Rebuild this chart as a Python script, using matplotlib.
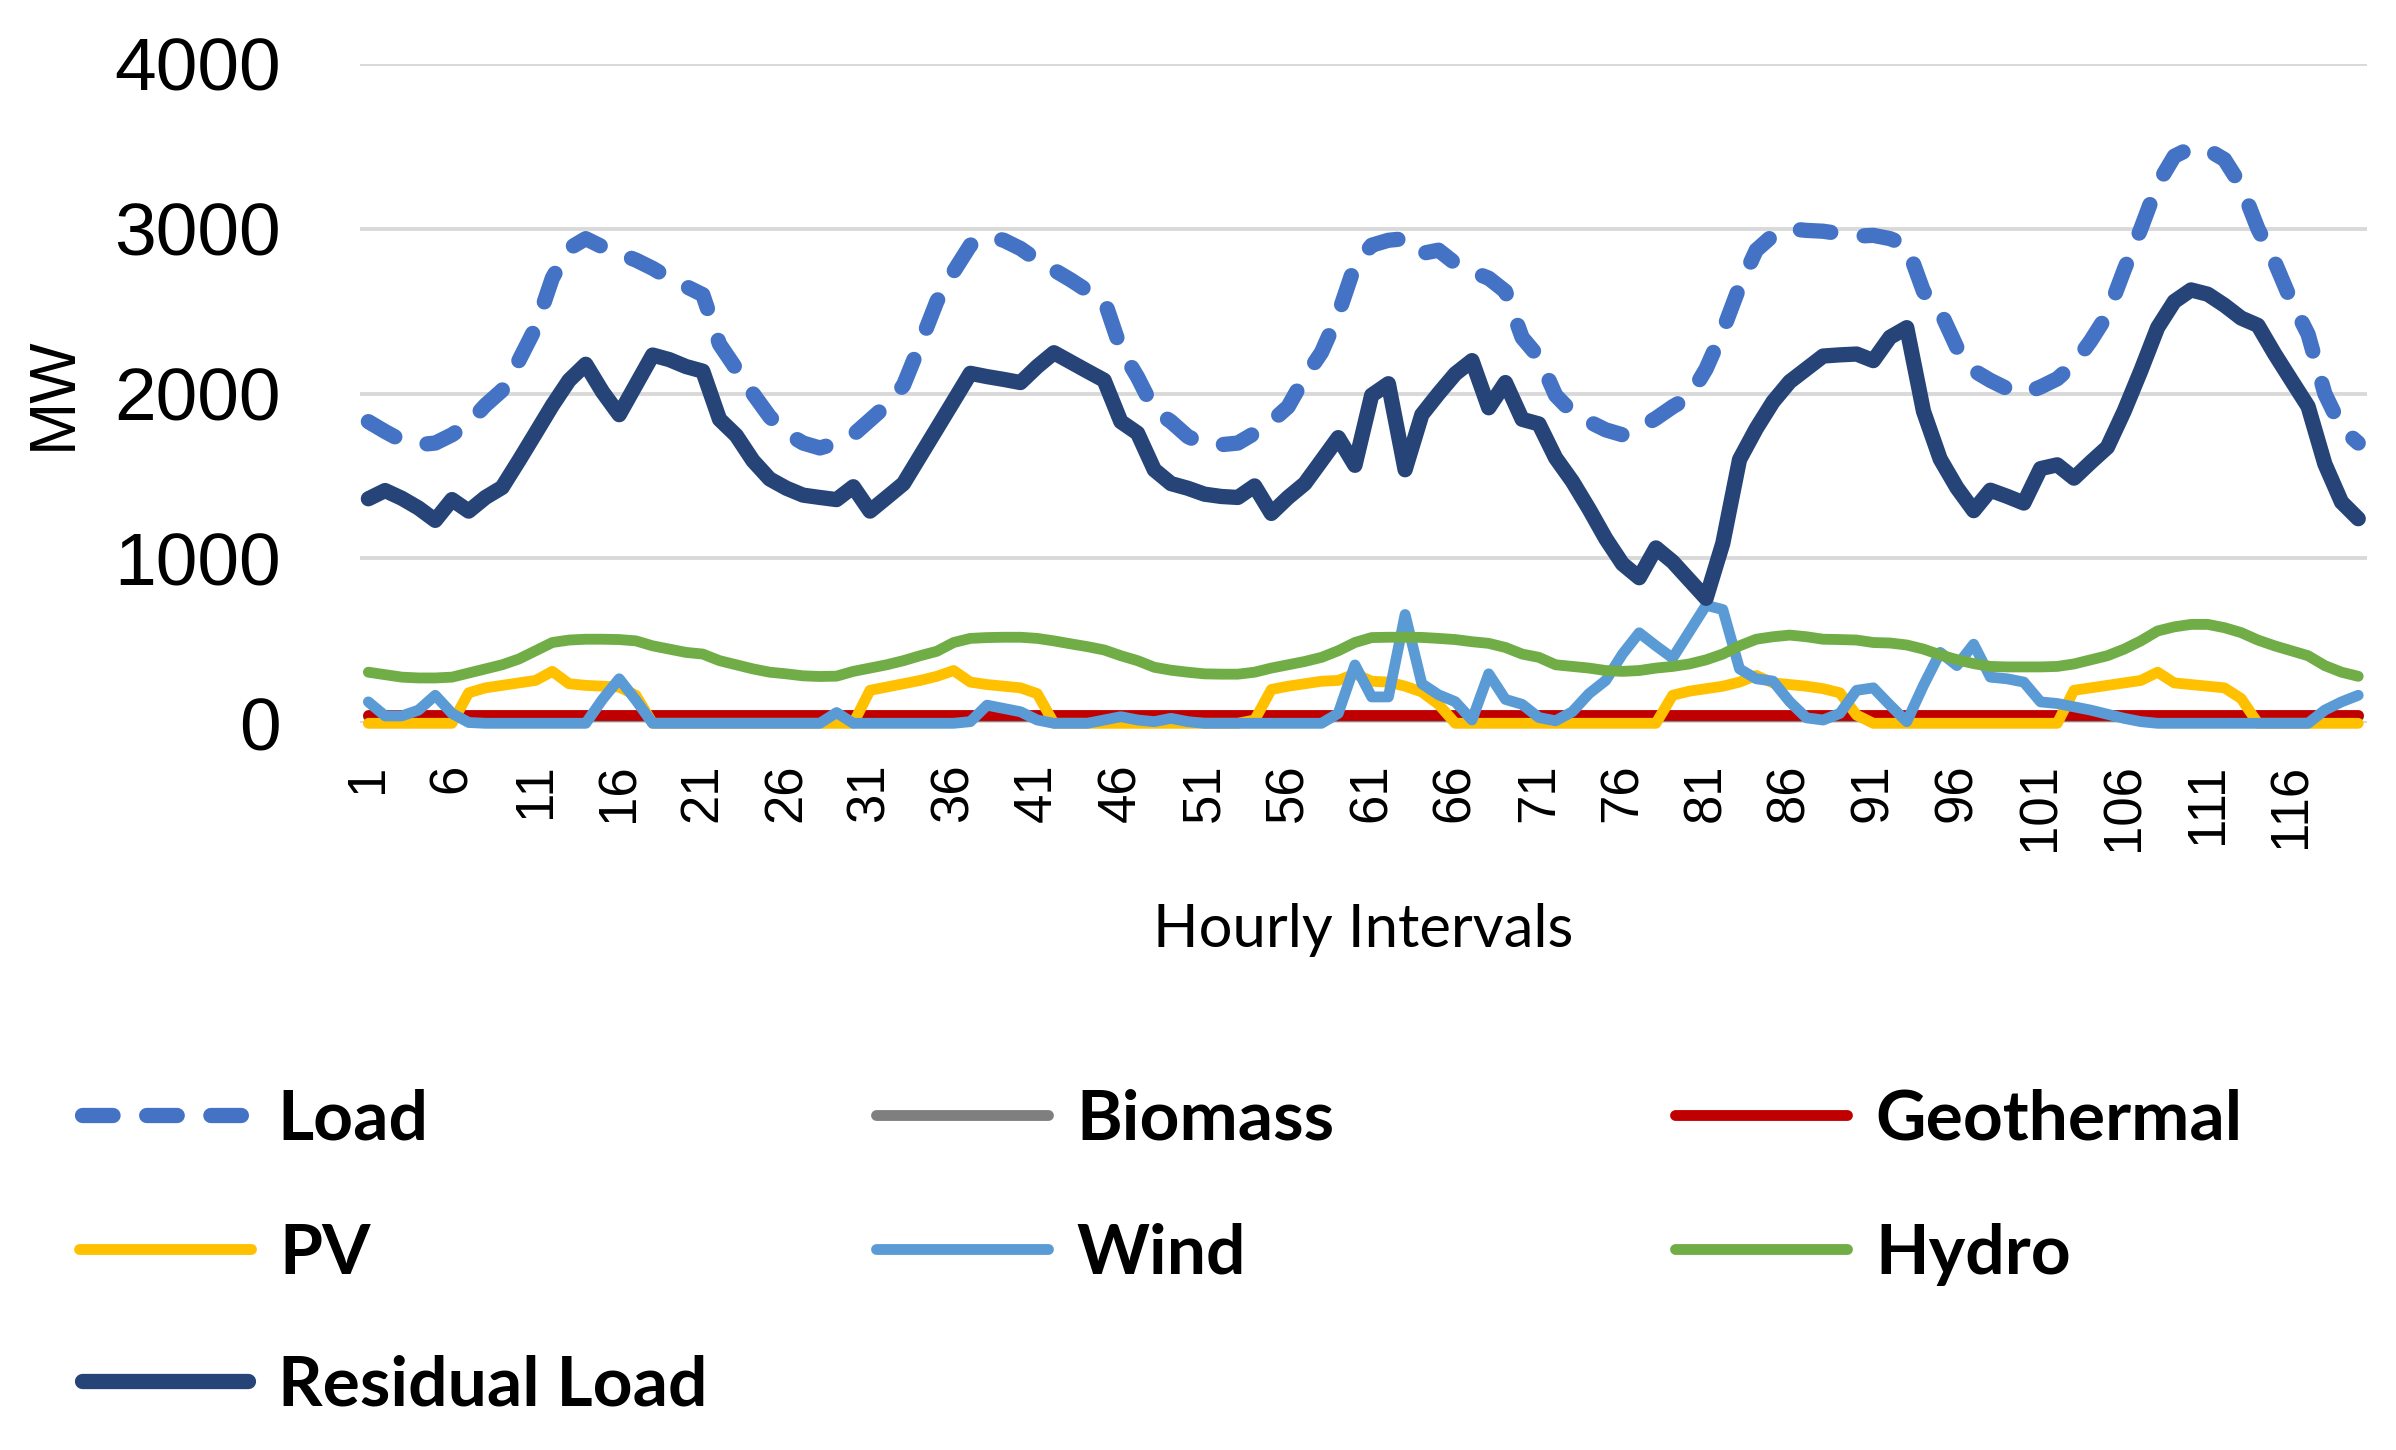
import matplotlib
matplotlib.use("Agg")
import matplotlib.pyplot as plt

plt.rcParams['font.family'] = ['Liberation Sans', 'DejaVu Sans']

hours = list(range(1, 121))

load = [1830, 1770, 1715, 1690, 1700, 1750, 1820, 1930, 2020, 2200,
        2400, 2700, 2880, 2940, 2890, 2850, 2810, 2760, 2700, 2650,
        2600, 2300, 2150, 2000, 1860, 1760, 1700, 1670, 1700, 1750,
        1840, 1930, 2050, 2300, 2560, 2740, 2900, 2955, 2930, 2880,
        2810, 2750, 2690, 2624, 2570, 2270, 2100, 1900, 1830, 1740,
        1690, 1690, 1700, 1760, 1830, 1920, 2100, 2250, 2480, 2780,
        2900, 2930, 2940, 2850, 2870, 2790, 2740, 2700, 2620, 2340,
        2220, 1990, 1886, 1830, 1780, 1750, 1790, 1850, 1920, 1980,
        2150, 2380, 2650, 2870, 2960, 3000, 2990, 2985, 2970, 2955,
        2960, 2940, 2900, 2620, 2500, 2280, 2140, 2080, 2030, 2000,
        2040, 2090, 2180, 2320, 2480, 2750, 3000, 3270, 3440, 3490,
        3480, 3420, 3260, 3000, 2800, 2560, 2360, 2000, 1790, 1700]

biomass = [45] * 120
geothermal = [50] * 120

pv = [0, 0, 0, 0, 0, 0, 185, 215, 230, 245,
      260, 315, 240, 230, 225, 220, 170, 0, 0, 0,
      0, 0, 0, 0, 0, 0, 0, 0, 0, 0,
      200, 220, 240, 260, 285, 320, 250, 235, 225, 215,
      180, 0, 0, 0, 0, 0, 0, 0, 0, 0,
      0, 0, 0, 20, 205, 225, 240, 255, 260, 300,
      255, 250, 225, 190, 115, 0, 0, 0, 0, 0,
      0, 0, 0, 0, 0, 0, 0, 0, 170, 195,
      210, 225, 250, 290, 245, 235, 225, 210, 185, 50,
      0, 0, 0, 0, 0, 0, 0, 0, 0, 0,
      0, 0, 200, 215, 230, 245, 260, 310, 245, 235,
      225, 215, 150, 0, 0, 0, 0, 0, 0, 0]

wind = [130, 45, 45, 80, 170, 60, 5, 0, 0, 0,
        0, 0, 0, 0, 145, 270, 140, 0, 0, 0,
        0, 0, 0, 0, 0, 0, 0, 0, 65, 0,
        0, 0, 0, 0, 0, 0, 10, 110, 90, 70,
        20, 0, 0, 0, 20, 40, 20, 10, 30, 10,
        0, 0, 0, 0, 0, 0, 0, 0, 60, 354,
        160, 160, 660, 240, 173, 131, 20, 300, 145, 115,
        35, 15, 70, 180, 260, 420, 549, 470, 396, 556,
        716, 690, 330, 270, 256, 131, 33, 20, 60, 200,
        215, 110, 10, 230, 430, 350, 480, 280, 270, 250,
        130, 120, 100, 80, 55, 30, 10, 0, 0, 0,
        0, 0, 0, 0, 0, 0, 0, 80, 130, 170]

hydro = [310, 295, 280, 275, 275, 280, 305, 330, 355, 390,
         440, 490, 505, 510, 510, 508, 500, 470, 450, 430,
         420, 380, 355, 330, 310, 300, 288, 284, 286, 315,
         335, 355, 380, 410, 437, 490, 515, 520, 522, 522,
         515, 500, 482, 465, 445, 410, 380, 340, 322, 310,
         300, 298, 298, 310, 335, 355, 375, 400, 440, 490,
         520, 522, 522, 521, 515, 508, 495, 485, 460, 420,
         400, 355, 345, 335, 320, 315, 320, 335, 345, 360,
         385, 420, 470, 510, 525, 535, 525, 510, 508, 505,
         490, 487, 475, 450, 415, 386, 362, 345, 342, 342,
         342, 345, 360, 385, 410, 450, 500, 560, 585, 600,
         600, 580, 550, 505, 470, 440, 410, 350, 310, 285]

residual = [1362, 1412, 1365, 1306, 1231, 1357, 1287, 1370, 1431, 1593,
            1760, 1928, 2080, 2178, 2011, 1872, 2053, 2234, 2206, 2164,
            2136, 1844, 1746, 1593, 1482, 1426, 1384, 1370, 1357, 1435,
            1287, 1370, 1454, 1621, 1788, 1955, 2123, 2103, 2086, 2067,
            2164, 2248, 2192, 2136, 2081, 1830, 1760, 1538, 1454, 1426,
            1390, 1376, 1370, 1440, 1273, 1370, 1454, 1593, 1733, 1565,
            1990, 2060, 1538, 1872, 2000, 2120, 2200, 1914, 2067, 1844,
            1816, 1610, 1468, 1300, 1120, 967, 883, 1064, 980, 869,
            758, 1092, 1600, 1788, 1950, 2072, 2150, 2228, 2235, 2240,
            2200, 2342, 2400, 1893, 1603, 1429, 1290, 1414, 1377, 1336,
            1545, 1568, 1487, 1583, 1675, 1893, 2139, 2400, 2559, 2629,
            2603, 2536, 2458, 2414, 2241, 2081, 1922, 1574, 1342, 1241]

series_names = ['Load', 'Biomass', 'Geothermal', 'PV', 'Wind', 'Hydro', 'Residual Load']
series_colors = ['#4472C4', '#7F7F7F', '#C00000', '#FFC000', '#5B9BD5', '#70AD47', '#264478']
y_ticks = [0, 1000, 2000, 3000, 4000]
x_ticks = list(range(1, 121, 5))

W, H = 2396, 1450
fig = plt.figure(figsize=(W / 100, H / 100), dpi=100)
ax_l, ax_r, ax_b, ax_t = 360, 2366.6, 723.3, 63.9
ax = fig.add_axes([ax_l / W, 1 - ax_b / H, (ax_r - ax_l) / W, (ax_b - ax_t) / H])

lw_main = 11.0
lw_thin = 7.8
data = [load, biomass, geothermal, pv, wind, hydro, residual]
lines = []
for name, col, vals in zip(series_names, series_colors, data):
    kw = dict(color=col, solid_capstyle='round', solid_joinstyle='round', clip_on=False, label=name)
    if name == 'Load':
        ln, = ax.plot(hours, vals, lw=lw_main, dashes=(2.0, 2.2), dash_capstyle='round',
                      dash_joinstyle='round', color=col, clip_on=False, label=name)
    elif name == 'Residual Load':
        ln, = ax.plot(hours, vals, lw=lw_main, **kw)
    else:
        ln, = ax.plot(hours, vals, lw=lw_thin, **kw)
    lines.append(ln)

ax.set_xlim(0.5, 120.5)
ax.set_ylim(0, 4000)
ax.set_yticks(y_ticks)
ax.set_yticklabels([str(v) for v in y_ticks])
ax.set_xticks(x_ticks)
ax.set_xticklabels([str(v) for v in x_ticks])
ax.grid(axis='y', color='#D9D9D9', lw=2.8)
ax.grid(axis='x', visible=False)
ax.set_axisbelow(True)
for s in ax.spines.values():
    s.set_visible(False)
ax.tick_params(axis='both', length=0)
ax.tick_params(axis='y', pad=57, labelsize=54, labelcolor='black')
ax.tick_params(axis='x', pad=28.8, labelsize=38, labelrotation=90, labelcolor='black')

ax.set_ylabel('MW', fontsize=46, color='black')
ax.yaxis.set_label_coords(-0.1375, 0.5)
ax.set_xlabel('Hourly Intervals', fontsize=43, family=['Lato', 'DejaVu Sans'], color='black')
ax.xaxis.set_label_coords(0.5, -0.2725)

# legend: 3 columns laid out row-wise like the original
col_x = [74, 871, 1670]
row_y = [1123, 1257, 1389]
fs = 50
fs_px = fs * 100 / 72
for i, (ln, name) in enumerate(zip(lines, series_names)):
    c, r = i % 3, i // 3
    lwpx = ln.get_linewidth() * 100 / 72
    x0 = (col_x[c] + lwpx / 2) / W
    y0 = 1 - (row_y[r] - 3) / H
    hl = (182 - lwpx) / fs_px
    fig.legend([ln], [name], loc='center left', bbox_to_anchor=(x0, y0),
               frameon=False, borderpad=0, borderaxespad=0,
               handlelength=hl, handletextpad=0.42,
               prop=dict(family=['Lato', 'DejaVu Sans'], weight='bold', size=fs))

fig.savefig('out.png', dpi=100)
